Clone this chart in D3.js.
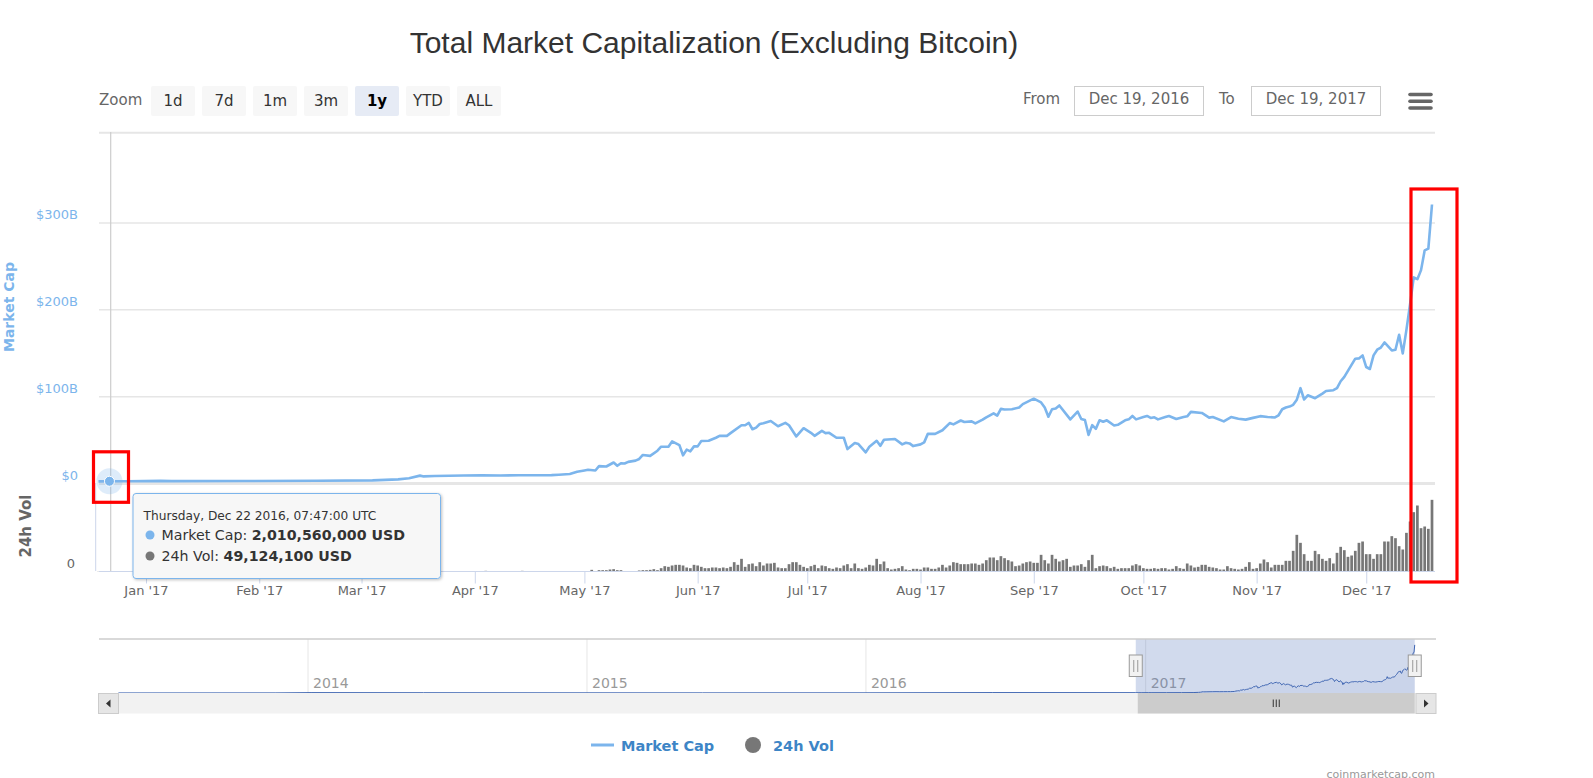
<!DOCTYPE html>
<html>
<head>
<meta charset="utf-8">
<title>Total Market Capitalization (Excluding Bitcoin)</title>
<script src="https://cdn.jsdelivr.net/npm/d3@7"></script>
<style>
  html, body { margin: 0; background: #fff; }
  svg { display: block; }
  text { font-family: "DejaVu Sans", sans-serif; }
</style>
</head>
<body>
<div id="chart"></div>
<script>
// market cap in $B, vertices of the line, day = days after Dec 19 2016
const capDays = [0,3,8,17,20,40,60,75,82,85,88,89,92,100,105,110,115,120,124,126,129,131,133,134,136,137,139,141,142,143,144,145,147,148,149,151,153,154,156,157,159,160,161,162,163,164,165,167,169,170,172,173,176,177,178,179,180,181,182,184,186,188,189,191,193,195,196,198,199,200,202,204,205,207,208,210,211,213,214,215,218,220,221,222,223,225,226,227,229,231,233,234,236,237,239,240,242,243,245,246,247,248,250,252,253,256,258,259,260,261,262,263,266,268,269,270,271,272,273,274,275,276,278,279,281,282,283,284,286,287,288,289,290,292,293,295,297,298,299,302,304,305,308,310,312,314,316,318,320,322,323,324,325,326,327,328,329,330,331,333,335,336,338,339,340,341,344,345,346,347,348,349,350,351,352,354,355,356,357,358,359,360,361,362,363,364,365]
const capValues = [1.9,2.01,2.1,2.5,2.2,2.3,2.6,3,4.2,5.5,8.5,7.6,8,8.6,9,8.6,8.9,9,9.1,9.5,10.3,12.9,14.4,15.2,14.4,19.4,19,23.6,19.8,22.8,22.4,24.3,25.8,27.7,32.3,31.2,37.2,41.8,41.8,47.9,43.7,31.9,38.4,36.5,42.2,42.2,48.3,48.6,52.1,54.3,54.3,57.4,66.5,66.5,69.2,61.9,63.8,68,68.8,71.4,65.4,69.2,66.5,53.6,63.1,57.8,54.3,60,57.4,57.8,52.1,52.1,39.1,46,44.8,35.3,41.8,48.6,42.9,49.8,50.7,44.5,46.4,45.6,42.5,44.5,46.8,56.6,56.6,60.8,69,67.5,72,70.2,71,68.6,73,75.7,80.3,77.6,85.4,84.6,85,87,90.9,97.1,92.8,87,76.4,85,85.8,89.3,73.3,82.3,73.7,72.5,55.4,66.7,62.4,72.2,70.6,72.2,66.3,67,72.2,73.3,77.2,73.3,76,77.2,74.9,75.7,73.3,76,77.2,73.7,76,76.8,81.9,80.7,75.3,76,71,76,74,73,75,77,76,75.5,78,85,87,88,90,96,109.2,96.2,101,97.7,103,106,106.9,109.2,117.2,122.2,143.2,143.5,147,133.6,131.3,147,153.5,156,161.9,152.7,153.5,170.7,149.3,176.4,206,236.8,234.8,245.2,268,270,320.8]

// 24h volume in $100M, one bar per day from Dec 19 2016
const volValues = [
  .5,.5,.5,.5,.5,.5,.5,.5,.5,.5,.5,.5,.5,.5,.5,.5,.5,.5,.5,.5,
  .5,.5,.5,.5,.5,.5,.5,.5,.5,.5,.5,.5,.5,.5,.5,.5,.5,.5,.5,.5,
  .5,.5,.5,.5,.5,.5,.5,.5,.5,.5,.5,.5,.5,.5,.5,.5,.5,.5,.5,.5,
  .5,.5,.5,.5,.5,.5,.5,.5,.5,.5,.5,.5,.5,.5,.5,.5,.5,.5,.5,.5,
  1,1,1,1,1,1,1,1,1,1,1,1,1,1,1,1,1,1,1,1,
  1,1,1,1,1,1,2,1,1,1,1,1,1,1,1,1,2,1,1,1,
  1,1,1,1,1,1,1,1,1,1,1,1,1,1,1,5,1,4,4,4,
  6,7,4,4,1,0,0,0,3,4,4,5,7,4,10,16,14,18,20,20,
  18,12,10,20,18,14,10,10,12,12,10,12,10,14,28,20,38,14,22,24,
  16,28,18,24,24,26,12,10,10,22,28,28,20,14,10,16,20,10,18,16,
  10,8,12,10,18,22,10,24,10,8,12,20,18,38,22,30,10,6,8,10,
  16,6,4,8,8,6,12,12,8,8,12,20,12,18,28,26,22,22,22,24,
  24,20,24,34,42,42,34,46,40,34,30,16,18,24,28,30,26,26,50,34,
  24,50,38,30,34,38,14,18,18,22,14,34,50,10,16,18,16,10,14,8,
  10,10,10,18,22,18,10,8,8,10,8,10,10,6,8,16,10,8,24,18,
  12,14,20,20,14,12,10,6,6,16,10,8,6,8,14,28,8,10,24,36,
  28,12,20,20,20,32,32,62,110,86,52,32,32,62,52,38,32,40,24,56,
  74,64,44,48,62,86,90,52,52,38,52,52,90,90,106,100,76,66,116,150,
  178,198,130,135,128,215
]

const monthTicks = ['2017-01-01','2017-02-01','2017-03-01','2017-04-01','2017-05-01','2017-06-01','2017-07-01','2017-08-01','2017-09-01','2017-10-01','2017-11-01','2017-12-01']
const capTicks = [0,100,200,300]
const zoomButtons = ['1d','7d','1m','3m','1y','YTD','ALL']
const navYears = ['2014','2015','2016','2017']
// navigator series before the one year window, $B
const navDates = ['2013-04-28','2013-11-20','2014-01-05','2014-06-01','2015-01-01','2015-06-01','2016-01-01','2016-06-15','2016-12-01']
const navValues = [.3,.6,2.2,1.6,1,.8,1,2.5,2]

const start = new Date(Date.UTC(2016, 11, 19))
const end = new Date(Date.UTC(2017, 11, 19))
const capData = capDays.map((d, i) => ({ date: d3.utcDay.offset(start, d), value: capValues[i] }))
const volData = volValues.map((v, i) => ({ date: d3.utcDay.offset(start, i), value: v }))

const svg = d3.select('#chart').append('svg').attr('width', 1593).attr('height', 778)
const plotLeft = 99, plotRight = 1435

const x = d3.scaleUtc().domain([start, end]).range([98.5, 1432])
const y = d3.scaleLinear().domain([0, 403.5]).range([483, 132.7])
const yVol = d3.scaleLinear().domain([0, 264]).range([571.5, 483.5])

// title
svg.append('text').attr('x', 714).attr('y', 53).attr('text-anchor', 'middle')
  .style('font-family', '"Liberation Sans", Arial, sans-serif').style('font-size', '30px')
  .attr('fill', '#333').text('Total Market Capitalization (Excluding Bitcoin)')

// range selector
svg.append('text').attr('x', 99).attr('y', 105).attr('fill', '#666').style('font-size', '15px').text('Zoom')
const btnX = d3.scalePoint().domain(zoomButtons).range([151, 457])
const btn = svg.selectAll('.btn').data(zoomButtons).enter().append('g').attr('class', 'btn')
  .attr('transform', d => 'translate(' + btnX(d) + ',86)')
btn.append('rect').attr('width', 44).attr('height', 30).attr('rx', 2)
  .attr('fill', d => d == '1y' ? '#e6ebf5' : '#f7f7f7')
btn.append('text').attr('x', 22).attr('y', 19.5).attr('text-anchor', 'middle')
  .style('font-size', '15px').style('font-weight', d => d == '1y' ? 'bold' : 'normal')
  .attr('fill', d => d == '1y' ? '#000' : '#333').text(d => d)

svg.append('text').attr('x', 1023).attr('y', 104).attr('fill', '#666').style('font-size', '15px').text('From')
svg.append('text').attr('x', 1219).attr('y', 104).attr('fill', '#666').style('font-size', '15px').text('To')
const dateBoxes = [{ x: 1074, label: 'Dec 19, 2016' }, { x: 1251, label: 'Dec 19, 2017' }]
dateBoxes.forEach(b => {
  svg.append('rect').attr('x', b.x + .5).attr('y', 86.5).attr('width', 129).attr('height', 29)
    .attr('fill', 'none').attr('stroke', '#ccc')
  svg.append('text').attr('x', b.x + 65).attr('y', 104).attr('text-anchor', 'middle')
    .attr('fill', '#666').style('font-size', '15px').text(b.label)
})
// menu icon
svg.selectAll('.menu').data([94.5, 101.2, 108]).enter().append('line').attr('class', 'menu')
  .attr('x1', 1410).attr('x2', 1431).attr('y1', d => d).attr('y2', d => d)
  .attr('stroke', '#666').attr('stroke-width', 3.6).attr('stroke-linecap', 'round')

// y axis, gridlines
svg.append('line').attr('x1', plotLeft).attr('x2', plotRight).attr('y1', 132.7).attr('y2', 132.7)
  .attr('stroke', '#e6e6e6').attr('stroke-width', 2)
const gy = svg.append('g').attr('transform', 'translate(' + plotLeft + ',0)')
  .call(d3.axisLeft(y).tickValues(capTicks).tickSize(-(plotRight - plotLeft)).tickFormat(d => d == 0 ? '$0' : '$' + d + 'B'))
gy.select('.domain').remove()
gy.selectAll('line').attr('stroke', '#e6e6e6').attr('stroke-width', d => d == 0 ? 3 : 1.5)
gy.selectAll('text').attr('x', -21).attr('dy', '-4px').attr('fill', '#7cb5ec')
  .style('font-size', '13px').style('font-family', '"DejaVu Sans", sans-serif')

svg.append('text').attr('transform', 'translate(14,307) rotate(-90)').attr('text-anchor', 'middle')
  .attr('fill', '#7cb5ec').style('font-size', '14px').style('font-weight', 'bold').text('Market Cap')
svg.append('text').attr('transform', 'translate(31,526) rotate(-90)').attr('text-anchor', 'middle')
  .attr('fill', '#666').style('font-size', '15px').style('font-weight', 'bold').text('24h Vol')
svg.append('text').attr('x', 75).attr('y', 568).attr('text-anchor', 'end')
  .attr('fill', '#666').style('font-size', '13px').text('0')

// crosshair
svg.append('line').attr('x1', 110.7).attr('x2', 110.7).attr('y1', 132).attr('y2', 571)
  .attr('stroke', '#ccc').attr('stroke-width', 1.2)
svg.append('line').attr('x1', 95.7).attr('x2', 95.7).attr('y1', 483).attr('y2', 571)
  .attr('stroke', '#ccd6eb')

// volume bars
svg.selectAll('.vol').data(volData).enter().append('rect').attr('class', 'vol')
  .attr('x', d => x(d.date) - 1.35).attr('width', 2.7)
  .attr('y', d => yVol(d.value)).attr('height', d => yVol(0) - yVol(d.value))
  .attr('fill', '#777')

// x axis
const gx = svg.append('g').attr('transform', 'translate(0,571.5)')
  .call(d3.axisBottom(x).tickValues(monthTicks.map(d => new Date(d + 'T00:00:00Z')))
    .tickSize(12).tickFormat(d3.utcFormat("%b '%y")))
gx.select('.domain').remove()
gx.selectAll('line').attr('stroke', '#ccd6eb')
gx.selectAll('text').attr('y', 14).attr('fill', '#666')
  .style('font-size', '13px').style('font-family', '"DejaVu Sans", sans-serif')
svg.append('line').attr('x1', plotLeft).attr('x2', plotRight).attr('y1', 571.5).attr('y2', 571.5)
  .attr('stroke', '#ccd6eb')

// market cap line
const line = d3.line().x(d => x(d.date)).y(d => y(d.value))
svg.append('path').datum(capData).attr('d', line)
  .attr('fill', 'none').attr('stroke', '#7cb5ec').attr('stroke-width', 2.6).attr('stroke-linejoin', 'round')

// hover marker
const hover = capData[1]
svg.append('circle').attr('cx', x(hover.date)).attr('cy', y(hover.value)).attr('r', 13)
  .attr('fill', '#7cb5ec').attr('opacity', .25)
svg.append('circle').attr('cx', x(hover.date)).attr('cy', y(hover.value)).attr('r', 5)
  .attr('fill', '#7cb5ec').attr('stroke', '#fff')

// navigator
const navX = d3.scaleUtc().domain([new Date(Date.UTC(2014, 0, 1)), new Date(Date.UTC(2017, 0, 1))]).range([308, 1145.7])
const navY = d3.scaleLinear().domain([0, 320]).range([693, 645])
const navData = navDates.map((d, i) => ({ date: new Date(d + 'T00:00:00Z'), value: navValues[i] })).concat(capData)
const selLeft = navX(start), selRight = navX(end)

svg.selectAll('.navgrid').data(navYears).enter().append('line').attr('class', 'navgrid')
  .attr('x1', d => navX(new Date(d + '-01-01T00:00:00Z'))).attr('x2', d => navX(new Date(d + '-01-01T00:00:00Z')))
  .attr('y1', 639).attr('y2', 693).attr('stroke', '#e6e6e6')
svg.selectAll('.navlabel').data(navYears).enter().append('text').attr('class', 'navlabel')
  .attr('x', d => navX(new Date(d + '-01-01T00:00:00Z')) + 5).attr('y', 688)
  .attr('fill', '#999').style('font-size', '14px').text(d => d)

svg.append('path').datum(navData)
  .attr('d', d3.area().x(d => navX(d.date)).y0(693).y1(d => navY(d.value)))
  .attr('fill', '#335cad').attr('opacity', .05)
svg.append('path').datum(navData)
  .attr('d', d3.line().x(d => navX(d.date)).y(d => navY(d.value)))
  .attr('fill', 'none').attr('stroke', '#335cad').attr('stroke-width', 1)
svg.append('rect').attr('x', selLeft).attr('y', 639).attr('width', selRight - selLeft).attr('height', 54)
  .attr('fill', '#6685c2').attr('opacity', .3)
svg.append('line').attr('x1', plotLeft).attr('x2', plotRight + 1).attr('y1', 639).attr('y2', 639)
  .attr('stroke', '#ccc').attr('stroke-width', 1.5)

// scrollbar
svg.append('rect').attr('x', 98).attr('y', 693).attr('width', 1338).attr('height', 20.5).attr('fill', '#f2f2f2')
svg.append('rect').attr('x', selLeft + 2).attr('y', 693).attr('width', selRight - selLeft - 2).attr('height', 20.5).attr('fill', '#ccc')
svg.append('rect').attr('x', 98.5).attr('y', 693.5).attr('width', 20).attr('height', 20).attr('fill', '#e6e6e6').attr('stroke', '#ccc')
svg.append('rect').attr('x', 1416).attr('y', 693.5).attr('width', 20).attr('height', 20).attr('fill', '#e6e6e6').attr('stroke', '#ccc')
svg.append('path').attr('d', 'M110.5 699.5 L106 703.5 L110.5 707.5 Z').attr('fill', '#333')
svg.append('path').attr('d', 'M1424 699.5 L1428.5 703.5 L1424 707.5 Z').attr('fill', '#333')
const gripX = (selLeft + selRight) / 2 + 1
;[-3, 0, 3].forEach(o => {
  svg.append('line').attr('x1', gripX + o).attr('x2', gripX + o).attr('y1', 699.5).attr('y2', 707)
    .attr('stroke', '#333')
})

// navigator handles
;[selLeft, selRight].forEach(h => {
  svg.append('rect').attr('x', h - 6.5).attr('y', 655).attr('width', 13).attr('height', 21.5)
    .attr('fill', '#f2f2f2').attr('stroke', '#999')
  ;[-2, 2].forEach(o => {
    svg.append('line').attr('x1', h + o).attr('x2', h + o).attr('y1', 660).attr('y2', 672).attr('stroke', '#999')
  })
})

// tooltip
const shadow = svg.append('defs').append('filter').attr('id', 'shadow').attr('x', '-5%').attr('y', '-10%').attr('width', '110%').attr('height', '125%')
shadow.append('feDropShadow').attr('dx', 1).attr('dy', 1).attr('stdDeviation', 1.5).attr('flood-color', '#000').attr('flood-opacity', .25)
svg.append('rect').attr('x', 133).attr('y', 493.5).attr('width', 307.5).attr('height', 85).attr('rx', 3)
  .attr('fill', '#f7f7f7').attr('stroke', '#7cb5ec').attr('filter', 'url(#shadow)')
svg.append('text').attr('x', 143.5).attr('y', 519.5).attr('fill', '#333').style('font-size', '12.2px')
  .text('Thursday, Dec 22 2016, 07:47:00 UTC')
const tipRows = [
  { y: 540, color: '#7cb5ec', name: 'Market Cap: ', value: '2,010,560,000 USD' },
  { y: 561, color: '#777', name: '24h Vol: ', value: '49,124,100 USD' }
]
tipRows.forEach(r => {
  svg.append('circle').attr('cx', 150).attr('cy', r.y - 5).attr('r', 4.5).attr('fill', r.color)
  const t = svg.append('text').attr('x', 161.5).attr('y', r.y).attr('fill', '#333').style('font-size', '14.2px')
  t.append('tspan').text(r.name)
  t.append('tspan').style('font-weight', 'bold').text(r.value)
})

// legend
svg.append('line').attr('x1', 591).attr('x2', 614).attr('y1', 745).attr('y2', 745)
  .attr('stroke', '#7cb5ec').attr('stroke-width', 3)
svg.append('text').attr('x', 621).attr('y', 750.5).attr('fill', '#3d85c6')
  .style('font-size', '14.5px').style('font-weight', 'bold').text('Market Cap')
svg.append('circle').attr('cx', 753).attr('cy', 745).attr('r', 8).attr('fill', '#777')
svg.append('text').attr('x', 773).attr('y', 750.5).attr('fill', '#3d85c6')
  .style('font-size', '14.5px').style('font-weight', 'bold').text('24h Vol')
svg.append('text').attr('x', 1435).attr('y', 778).attr('text-anchor', 'end').attr('fill', '#999')
  .style('font-size', '11px').text('coinmarketcap.com')

// red annotation boxes
svg.append('rect').attr('x', 93.5).attr('y', 451.8).attr('width', 35).attr('height', 50.5)
  .attr('fill', 'none').attr('stroke', 'red').attr('stroke-width', 3.2)
svg.append('rect').attr('x', 1411).attr('y', 189).attr('width', 46).attr('height', 393)
  .attr('fill', 'none').attr('stroke', 'red').attr('stroke-width', 3.2)
</script>
</body>
</html>
